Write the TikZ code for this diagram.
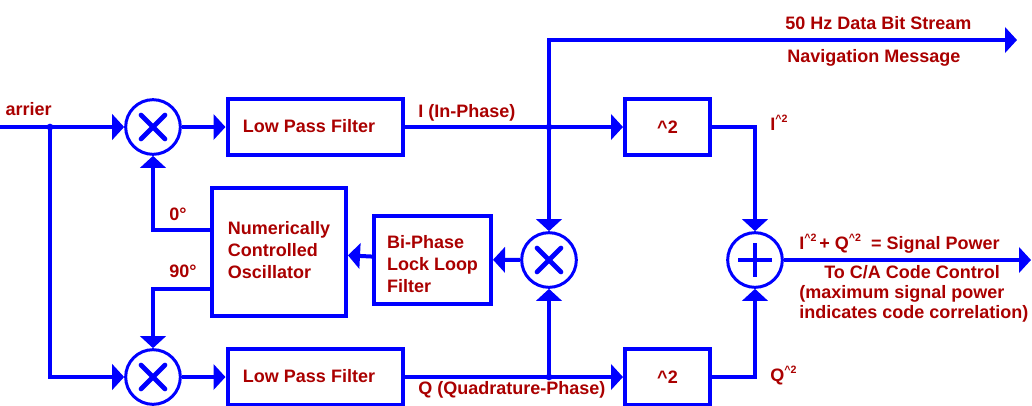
\documentclass[tikz,border=0pt]{standalone}
\usepackage{fontspec}
\setmainfont{Liberation Sans}
\usetikzlibrary{arrows.meta,calc}
\definecolor{wireblue}{RGB}{0,0,255}
\definecolor{txtred}{RGB}{170,0,0}
\newcommand\diagfont{\fontsize{13.5pt}{16.5pt}\selectfont\bfseries}
\newcommand\sqsup{\raisebox{0.42em}{\fontsize{8pt}{8pt}\selectfont\textasciicircum 2}}
\begin{document}
\begin{tikzpicture}[x=0.75pt,y=-0.75pt,
  wire/.style={draw=wireblue,line width=3pt},
  arr/.style={wire,-{Triangle[length=9pt,width=19pt]}},
  box/.style={draw=wireblue,line width=3pt,rectangle,inner sep=0pt,text=txtred,font=\diagfont},
  lbl/.style={text=txtred,font=\diagfont,inner sep=0pt},
  mix/.style={draw=wireblue,line width=2.25pt,circle,inner sep=0pt,minimum size=41pt,
    path picture={\draw[wireblue,line width=3.5pt,line cap=round]
      ([shift={(-12,-12)}]path picture bounding box.center) -- ([shift={(12,12)}]path picture bounding box.center)
      ([shift={(-12,12)}]path picture bounding box.center) -- ([shift={(12,-12)}]path picture bounding box.center);}},
  summer/.style={draw=wireblue,line width=2.25pt,circle,inner sep=0pt,minimum size=41pt,
    path picture={\draw[wireblue,line width=3pt]
      ([shift={(-17,0)}]path picture bounding box.center) -- ([shift={(17,0)}]path picture bounding box.center)
      ([shift={(0,-17)}]path picture bounding box.center) -- ([shift={(0,17)}]path picture bounding box.center);}},
  dot/.style={circle,fill=wireblue,inner sep=0pt,minimum size=5pt},
]
\useasboundingbox (0,0) rectangle (1032,405);

% mixers and summer
\node[mix] (mixI) at (153,127) {};
\node[mix] (mixQ) at (153,377) {};
\node[mix] (mixC) at (549,260) {};
\node[summer] (sum) at (755,260) {};

% boxes
\node[box,minimum width=131.25pt,minimum height=42pt] (lpfI) at (315,127) {Low Pass Filter\hspace*{9pt}\rule[-1.5pt]{0pt}{0pt}};
\node[box,minimum width=131.25pt,minimum height=42pt] (lpfQ) at (315,377) {Low Pass Filter\hspace*{9pt}\rule[-1.5pt]{0pt}{0pt}};
\node[box,minimum width=63.75pt,minimum height=42pt] (sqI) at (667.5,127) {\textasciicircum 2};
\node[box,minimum width=63.75pt,minimum height=42pt] (sqQ) at (667.5,377) {\textasciicircum 2};
\node[box,minimum width=100.5pt,minimum height=96pt,align=left] (nco) at (279,252)
  {Numerically\\Controlled\\Oscillator\rule[-3.75pt]{0pt}{0pt}};
\node[box,minimum width=87.75pt,minimum height=66pt,align=left] (bpll) at (432.5,259.5)
  {\rule{0pt}{17pt}Bi-Phase\\Lock Loop\\Filter};

% coordinates
\coordinate (cin) at (0,127);
\coordinate (split) at (50,127);
\coordinate (jI) at (549,127);
\coordinate (jQ) at (549,377);
\coordinate (out1) at (1017,40);
\coordinate (out2) at (1031,260);
\coordinate (n0) at ($(nco.west)+(0,-22)$);
\coordinate (n90) at ($(nco.west)+(0,37)$);

% connectors
\draw[wire] (cin) -- (split);
\draw[arr] (split) -- (mixI);
\draw[arr] (split) |- (mixQ);
\draw[arr] (mixI) -- (lpfI);
\draw[arr] (mixQ) -- (lpfQ);
\draw[arr] (lpfI) -- (sqI);
\draw[arr] (lpfQ) -- (sqQ);
\draw[arr] (jI) |- (out1);
\draw[arr] (jI) -- (mixC);
\draw[arr] (jQ) -- (mixC);
\draw[arr] (sqI) -| (sum);
\draw[arr] (sqQ) -| (sum);
\draw[arr] (sum) -- (out2);
\draw[arr] (mixC) -- (bpll);
\draw[arr] (bpll) -- (nco);
\draw[arr] (n0) -| (mixI);
\draw[arr] (n90) -| (mixQ);

\node[dot] (d1) at (split) {};
\node[dot] (d2) at (jI) {};
\node[dot] (d3) at (jQ) {};

% labels
\node[lbl,anchor=base east] (lcar) at (52,115) {arrier};
\node[lbl,anchor=base west] (lin) at (418,117) {I (In-Phase)};
\node[lbl,anchor=base west] (lqu) at (418,394) {Q (Quadrature-Phase)};
\node[lbl,anchor=base west] (l50) at (785,29) {50 Hz Data Bit Stream};
\node[lbl,anchor=base west] (lnav) at (787,62) {Navigation Message};
\node[lbl,anchor=base west] (li2) at (770,130) {I\sqsup};
\node[lbl,anchor=base west] (lq2) at (770,381) {Q\sqsup};
\node[lbl,anchor=base west] (lsp) at (799,249) {I\sqsup\,+ Q\sqsup\ \ = Signal Power};
\node[lbl,anchor=base west] (lca) at (824,278) {To C/A Code Control};
\node[lbl,anchor=base west] (lmax) at (799,298) {(maximum signal power};
\node[lbl,anchor=base west] (lind) at (799,318) {indicates code correlation)};
\node[lbl,anchor=base west] (l0) at (169,220) {0°};
\node[lbl,anchor=base west] (l90) at (169,277) {90°};
\end{tikzpicture}
\end{document}
